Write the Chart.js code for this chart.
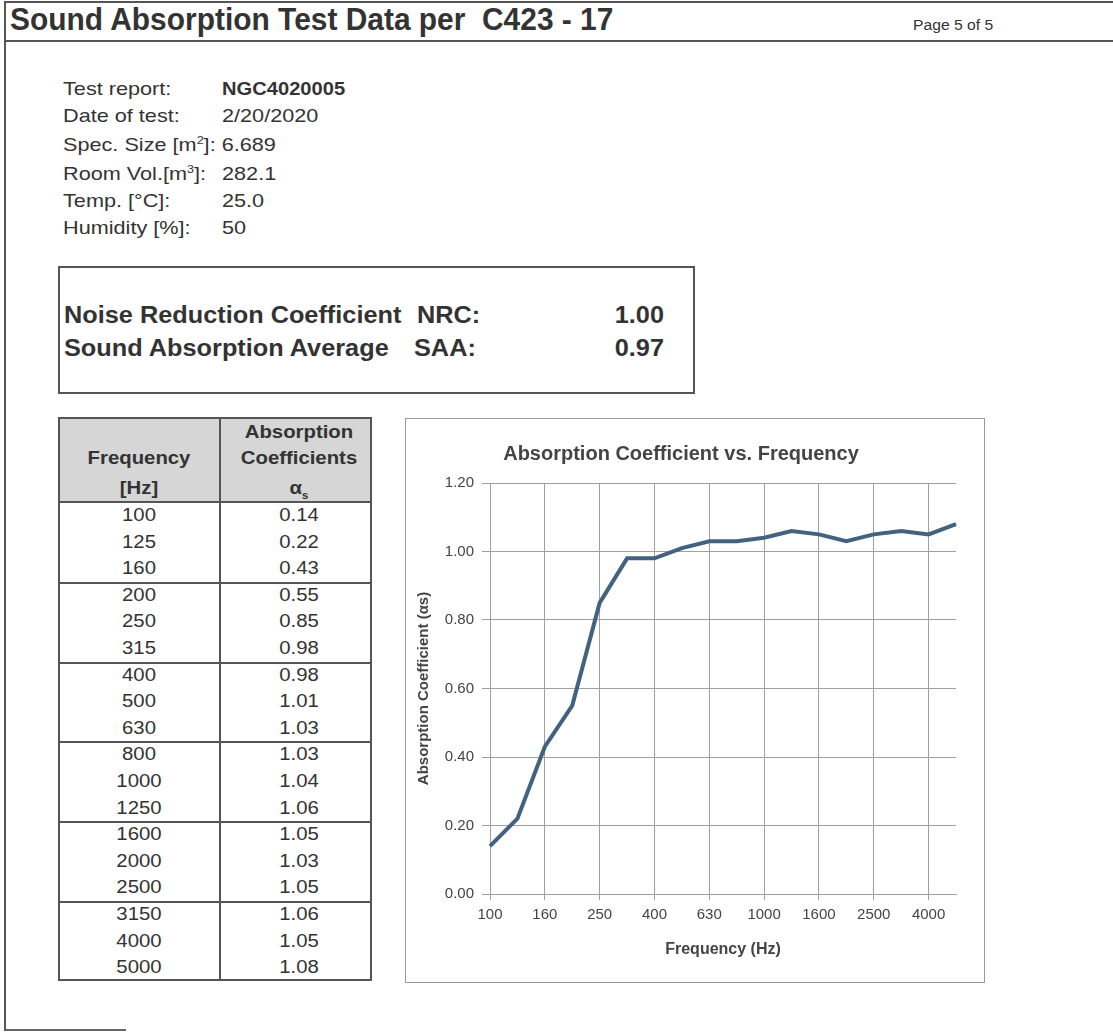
<!DOCTYPE html>
<html>
<head>
<meta charset="utf-8">
<script src="https://cdn.jsdelivr.net/npm/chart.js@4/dist/chart.umd.min.js"></script>
<style>
  html, body { margin: 0; padding: 0; background: #fff; }
  body { width: 1113px; height: 1033px; position: relative; overflow: hidden;
         font-family: "Liberation Sans", Arial, sans-serif; color: #333; }
  .abs { position: absolute; }
  #titlebar { left: 4px; top: 1px; width: 1120px; height: 37px; border-top: 2px solid #555;
              border-bottom: 2px solid #555; border-left: 2px solid #555; }
  #title { left: 10px; top: 2px; font-size: 31px; font-weight: bold; white-space: pre;
           transform: scaleX(0.965); transform-origin: left center; }
  #page { left: 913px; top: 17px; font-size: 14px; transform: scaleX(1.12); transform-origin: left center; }
  #leftline { left: 4px; top: 40px; width: 2px; height: 990px; background: #555; }
  #bottomline { left: 4px; top: 1029px; width: 122px; height: 2px; background: #666; }
  .info { font-size: 19px; white-space: nowrap; transform: scaleX(1.14); transform-origin: left center; }
  .info sup { font-size: 11px; }
  #nrcbox { left: 58px; top: 266px; width: 633px; height: 124px; border: 2px solid #555; }
  .nrc { font-size: 23px; font-weight: bold; white-space: nowrap; transform: scaleX(1.1); transform-origin: left center; }
  .nrcv { transform-origin: right center; }
  #tbl { left: 58px; top: 417px; width: 310px; height: 560px; border: 2px solid #555; }
  #hdr { left: 0; top: 0; width: 310px; height: 82px; background: #d6d6d6; border-bottom: 2px solid #555; }
  #vdiv { left: 159px; top: 0; width: 2px; height: 560px; background: #555; }
  .hd { font-size: 18px; font-weight: bold; text-align: center; width: 158px; transform: scaleX(1.13); }
  .cell { font-size: 18px; text-align: center; width: 158px; transform: scaleX(1.13); }
  .gline { left: 0; width: 310px; height: 2px; background: #555; }
  #chartbox { left: 405px; top: 418px; width: 578px; height: 563px; border: 1px solid #999; }
  #chartbox canvas { position: absolute; left: 0; top: 0; }
</style>
</head>
<body>
<div id="titlebar" class="abs"></div>
<div id="title" class="abs">Sound Absorption Test Data per  C423 - 17</div>
<div id="page" class="abs">Page 5 of 5</div>
<div id="leftline" class="abs"></div>
<div id="bottomline" class="abs"></div>

<div class="abs info" style="left:63px;top:78px;">Test report:</div>
<div class="abs info" style="left:222px;top:78px;font-weight:bold;transform:scaleX(1.06);">NGC4020005</div>
<div class="abs info" style="left:63px;top:105px;">Date of test:</div>
<div class="abs info" style="left:222px;top:105px;">2/20/2020</div>
<div class="abs info" style="left:63px;top:134px;">Spec. Size [m<sup>2</sup>]: 6.689</div>
<div class="abs info" style="left:63px;top:163px;">Room Vol.[m<sup>3</sup>]:</div>
<div class="abs info" style="left:222px;top:163px;">282.1</div>
<div class="abs info" style="left:63px;top:190px;">Temp. [°C]:</div>
<div class="abs info" style="left:222px;top:190px;">25.0</div>
<div class="abs info" style="left:63px;top:217px;">Humidity [%]:</div>
<div class="abs info" style="left:222px;top:217px;">50</div>

<div id="nrcbox" class="abs"></div>
<div class="abs nrc" style="left:64px;top:302px;">Noise Reduction Coefficient</div>
<div class="abs nrc" style="left:417px;top:302px;">NRC:</div>
<div class="abs nrc nrcv" style="left:600px;top:302px;width:64px;text-align:right;">1.00</div>
<div class="abs nrc" style="left:64px;top:335px;">Sound Absorption Average</div>
<div class="abs nrc" style="left:414px;top:335px;">SAA:</div>
<div class="abs nrc nrcv" style="left:600px;top:335px;width:64px;text-align:right;">0.97</div>

<div id="tbl" class="abs">
  <div id="hdr" class="abs"></div>
  <div class="abs hd" style="left:0;top:29px;">Frequency</div>
  <div class="abs hd" style="left:0;top:59px;">[Hz]</div>
  <div class="abs hd" style="left:160px;top:3px;">Absorption</div>
  <div class="abs hd" style="left:160px;top:29px;">Coefficients</div>
  <div class="abs hd" style="left:160px;top:59px;">α<sub style="font-size:10px;">s</sub></div>
  <div id="rows"></div>
  <div id="vdiv" class="abs"></div>
</div>

<div id="chartbox" class="abs"><canvas id="c" width="578" height="563"></canvas></div>

<script>
const frequencies = ["100","125","160","200","250","315","400","500","630","800","1000","1250","1600","2000","2500","3150","4000","5000"];
const absorption = [0.14,0.22,0.43,0.55,0.85,0.98,0.98,1.01,1.03,1.03,1.04,1.06,1.05,1.03,1.05,1.06,1.05,1.08];
const yTicks = [0, 0.2, 0.4, 0.6, 0.8, 1.0, 1.2];

// table
(function(){
  const rows = document.getElementById('rows');
  const top0 = 84, rh = 26.6;
  frequencies.forEach((f, i) => {
    const y = top0 + i * rh;
    const a = document.createElement('div'); a.className = 'abs cell';
    a.style.left = '0px'; a.style.top = (y + 2) + 'px'; a.textContent = f; rows.appendChild(a);
    const b = document.createElement('div'); b.className = 'abs cell';
    b.style.left = '160px'; b.style.top = (y + 2) + 'px'; b.textContent = absorption[i].toFixed(2); rows.appendChild(b);
    if (i > 0 && i % 3 === 0) {
      const g = document.createElement('div'); g.className = 'abs gline';
      g.style.top = (y - 1) + 'px'; rows.appendChild(g);
    }
  });
})();

const FONT = "'Liberation Sans', Arial, sans-serif";
new Chart(document.getElementById('c'), {
  type: 'line',
  data: {
    labels: frequencies,
    datasets: [{
      data: absorption,
      borderColor: '#43627f',
      borderWidth: 4,
      pointRadius: 0,
      tension: 0,
      fill: false
    }]
  },
  options: {
    responsive: false,
    animation: false,
    layout: { padding: { left: 0, right: 28, top: 0, bottom: 0 } },
    plugins: {
      legend: { display: false },
      tooltip: { enabled: false },
      title: {
        display: true,
        text: 'Absorption Coefficient vs. Frequency',
        color: '#444',
        font: { family: FONT, size: 20, weight: 'bold' },
        padding: { top: 23, bottom: 17 }
      }
    },
    scales: {
      x: {
        offset: false,
        grid: {
          color: (ctx) => (ctx.index % 2 === 0 && ctx.index < frequencies.length - 1) ? '#a0a0a0' : 'rgba(0,0,0,0)',
          tickLength: 6,
          lineWidth: 1
        },
        border: { color: '#a0a0a0' },
        ticks: {
          autoSkip: false, maxRotation: 0, minRotation: 0, padding: 6,
          color: '#444', font: { family: FONT, size: 15 },
          callback: function(v, i) { return (i % 2 === 0 && i < frequencies.length - 1) ? frequencies[i] : ''; }
        },
        title: {
          display: true, text: 'Frequency (Hz)', color: '#444',
          font: { family: FONT, size: 16, weight: 'bold' },
          padding: { top: 0, bottom: 23 }
        },
        afterFit: (s) => { s.height = 88; }
      },
      y: {
        min: 0, max: 1.2,
        afterBuildTicks: (s) => { s.ticks = yTicks.map(v => ({ value: v })); },
        grid: { color: '#a0a0a0', tickLength: 8, lineWidth: 1 },
        border: { color: '#a0a0a0' },
        ticks: {
          padding: 8, color: '#444', font: { family: FONT, size: 15 },
          callback: (v) => Number(v).toFixed(2)
        },
        title: {
          display: true, text: 'Absorption Coefficient (αs)', color: '#444',
          font: { family: FONT, size: 15, weight: 'bold' },
          padding: { top: 9, bottom: 0 }
        },
        afterFit: (s) => { s.width = 84; }
      }
    }
  }
});
</script>
</body>
</html>
